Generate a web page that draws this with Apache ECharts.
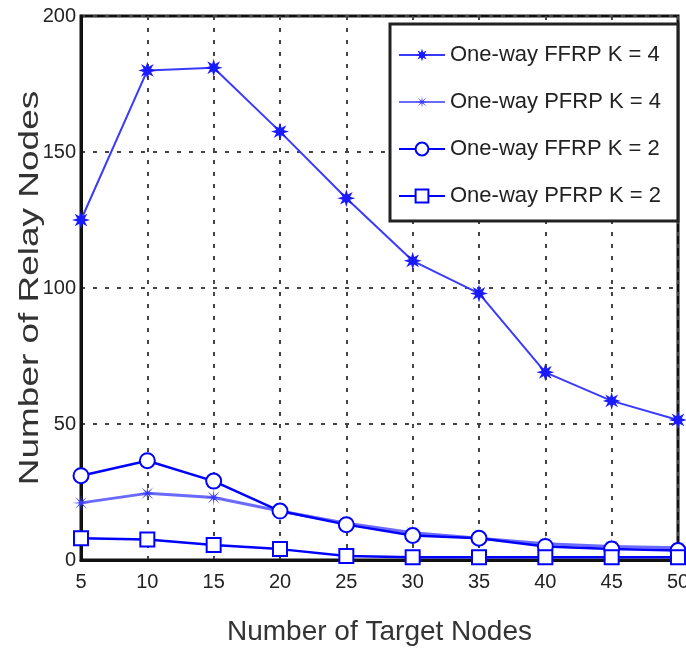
<!DOCTYPE html>
<html>
<head>
<meta charset="utf-8">
<script src="https://cdn.jsdelivr.net/npm/echarts@6/dist/echarts.min.js"></script>
<style>
html, body { margin: 0; padding: 0; background: #fff; }
#chart { width: 686px; height: 652px; }
</style>
</head>
<body>
<div id="chart"></div>
<script>
// values
var targetNodes = [5, 10, 15, 20, 25, 30, 35, 40, 45, 50];
var ffrpK4 = [125, 180, 181, 157.5, 133, 110, 98, 69, 58.5, 51.5];
var pfrpK4 = [21, 24.5, 23, 18, 13.5, 10, 8, 6, 5, 4.5];
var ffrpK2 = [31, 36.5, 29, 18, 13, 9, 8, 5, 4, 3.5];
var pfrpK2 = [8, 7.5, 5.5, 4, 1.5, 1, 1, 1, 1, 1];
var seriesNames = ['One-way FFRP K = 4', 'One-way PFRP K = 4', 'One-way FFRP K = 2', 'One-way PFRP K = 2'];

function pairs(ys) {
  return ys.map(function (y, i) { return [targetNodes[i], y]; });
}

// asterisk-like marker shapes
function starPath(n, r1, r2) {
  var s = 'path://';
  for (var i = 0; i < n * 2; i++) {
    var r = i % 2 === 0 ? r1 : r2;
    var a = Math.PI * i / n - Math.PI / 2;
    s += (i === 0 ? 'M' : 'L') + (10 + r * Math.cos(a)).toFixed(2) + ',' + (10 + r * Math.sin(a)).toFixed(2);
  }
  return s + 'Z';
}

var font = 'Liberation Sans, Arial, sans-serif';
var myChart = echarts.init(document.getElementById('chart'));

var option = {
  animation: false,
  grid: {
    left: 81, right: 8, top: 16, bottom: 92,
    outerBoundsMode: 'none',
    show: true, borderColor: '#111', borderWidth: 3
  },
  legend: {
    orient: 'vertical',
    left: 390, top: 24,
    padding: [20, 17, 14, 8],
    itemWidth: 46, itemHeight: 16, itemGap: 25,
    backgroundColor: '#fff',
    borderColor: '#222', borderWidth: 3,
    textStyle: { fontFamily: font, fontSize: 22, color: '#222' },
    data: seriesNames
  },
  xAxis: {
    type: 'value',
    min: 5, max: 50, interval: 5,
    name: 'Number of Target Nodes',
    nameLocation: 'middle',
    nameGap: 58,
    nameTextStyle: { fontFamily: font, fontSize: 28, color: '#333' },
    axisLine: { show: true, lineStyle: { color: '#111', width: 3 } },
    axisTick: { show: false },
    axisLabel: { margin: 12, fontFamily: font, fontSize: 20, color: '#222' },
    splitLine: { show: true, lineStyle: { color: '#444', width: 2, type: [4, 8] } }
  },
  yAxis: {
    type: 'value',
    min: 0, max: 200, interval: 50,
    axisLine: { show: true, lineStyle: { color: '#111', width: 3 } },
    axisTick: { show: false },
    axisLabel: { margin: 5, fontFamily: font, fontSize: 20, color: '#222' },
    splitLine: { show: true, lineStyle: { color: '#444', width: 2, type: [4, 8] } }
  },
  graphic: [{
    type: 'text',
    x: 30, y: 288,
    rotation: Math.PI / 2,
    scaleX: 1.32,
    style: {
      text: 'Number of Relay Nodes',
      font: '28px ' + font,
      fill: '#333',
      textAlign: 'center',
      textVerticalAlign: 'middle'
    }
  }],
  series: [
    {
      name: seriesNames[0], type: 'line', data: pairs(ffrpK4),
      symbol: starPath(8, 10, 4.5), symbolSize: 18,
      lineStyle: { color: '#3a3aff', width: 2 },
      itemStyle: { color: '#1a1aff' }
    },
    {
      name: seriesNames[1], type: 'line', data: pairs(pfrpK4),
      symbol: starPath(8, 10, 2), symbolSize: 17,
      lineStyle: { color: '#6a6aff', width: 3 },
      itemStyle: { color: '#3a3aff' }
    },
    {
      name: seriesNames[2], type: 'line', data: pairs(ffrpK2),
      symbol: 'emptyCircle', symbolSize: 15,
      lineStyle: { color: '#0000ff', width: 2.5 },
      itemStyle: { color: '#0000ff', borderWidth: 2.5 }
    },
    {
      name: seriesNames[3], type: 'line', data: pairs(pfrpK2),
      symbol: 'emptyRect', symbolSize: 14,
      lineStyle: { color: '#0000ff', width: 2.5 },
      itemStyle: { color: '#0000ff', borderWidth: 2.5 }
    }
  ]
};

myChart.setOption(option);
</script>
</body>
</html>
